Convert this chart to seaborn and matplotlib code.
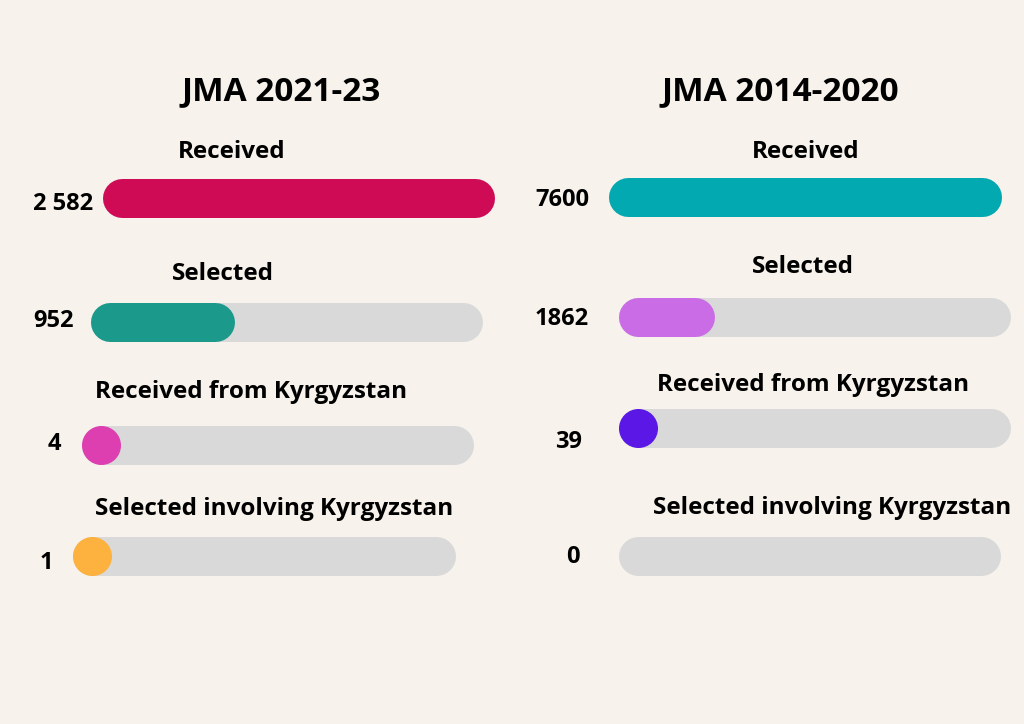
import matplotlib
matplotlib.use("Agg")
import matplotlib.pyplot as plt
import seaborn as sns

# data
titles = ["JMA 2021-23", "JMA 2014-2020"]
categories = ["Received", "Selected", "Received from Kyrgyzstan", "Selected involving Kyrgyzstan"]
values_2021 = [2582, 952, 4, 1]
values_2014 = [7600, 1862, 39, 0]
value_labels_2021 = ["2 582", "952", "4", "1"]
value_labels_2014 = ["7600", "1862", "39", "0"]
colors_2021 = ["#D00B56", "#1B998B", "#DD3FB0", "#FDB13F"]
colors_2014 = ["#03A9B1", "#C96CE6", "#5B17E6", "#5B17E6"]

BG = "#F7F3EC"
TRACK = "#D9D9D9"
W, H = 1024, 724
BAR_H = 39  # px

# layout in pixels: title centre, then per row
# category label centre, bar left/right/centre-y, value label centre
layout = [
    dict(title=(281, 92),
         label_xy=[(232, 152), (223, 274), (251, 392), (274, 509)],
         bar_x=[(102, 494), (90, 482), (81, 473), (72, 455)],
         bar_y=[198, 322, 445, 556],
         val_xy=[(63, 204), (54, 321), (54, 444), (46, 563)]),
    dict(title=(780, 92),
         label_xy=[(806, 152), (803, 267), (813, 385), (832, 508)],
         bar_x=[(608, 1001), (618, 1010), (618, 1010), (618, 1000)],
         bar_y=[197, 317, 428, 556],
         val_xy=[(562, 200), (562, 319), (569, 442), (573, 557)]),
]

sns.set_theme(style="white", rc={"figure.facecolor": BG, "axes.facecolor": BG})
plt.rcParams["font.family"] = ["Open Sans", "DejaVu Sans"]

fig = plt.figure(figsize=(W / 100, H / 100), dpi=100)


def fx(x):
    return x / W


def fy(y):
    return 1 - y / H


def draw_bar(x0, x1, yc, value, total, color):
    ax = fig.add_axes([fx(x0), fy(yc + BAR_H / 2), (x1 - x0) / W, BAR_H / H])
    ax.set_xlim(0, total)
    ax.set_ylim(-0.5, 0.5)
    ax.axis("off")
    ax.patch.set_alpha(0)
    lw = BAR_H * 0.72
    pad = total * (BAR_H / 2) / (x1 - x0)  # round cap radius in data units
    ax.plot([pad, total - pad], [0, 0], color=TRACK, lw=lw,
            solid_capstyle="round", clip_on=False, zorder=2)
    if value - pad > pad:
        sns.lineplot(x=[pad, value - pad], y=[0, 0], color=color, lw=lw,
                     solid_capstyle="round", clip_on=False, zorder=3, ax=ax)
    elif value > 0:
        # too small for a bar: just the round end
        sns.scatterplot(x=[pad], y=[0], color=color, s=lw ** 2, linewidth=0,
                        clip_on=False, zorder=3, ax=ax)


panels = [(values_2021, value_labels_2021, colors_2021),
          (values_2014, value_labels_2014, colors_2014)]

for p, (vals, vlabels, cols) in enumerate(panels):
    lay = layout[p]
    fig.text(fx(lay["title"][0]), fy(lay["title"][1]), titles[p], ha="center", va="center",
             fontsize=24, fontweight="bold", color="black")
    total = vals[0]
    for i, cat in enumerate(categories):
        lx, ly = lay["label_xy"][i]
        fig.text(fx(lx), fy(ly), cat, ha="center", va="center",
                 fontsize=17.5, fontweight="bold", color="black")
        x0, x1 = lay["bar_x"][i]
        draw_bar(x0, x1, lay["bar_y"][i], vals[i], total, cols[i])
        vx, vy = lay["val_xy"][i]
        fig.text(fx(vx), fy(vy), vlabels[i], ha="center", va="center",
                 fontsize=17, fontweight="bold", color="black")

fig.savefig("out.png", dpi=100, facecolor=BG)
